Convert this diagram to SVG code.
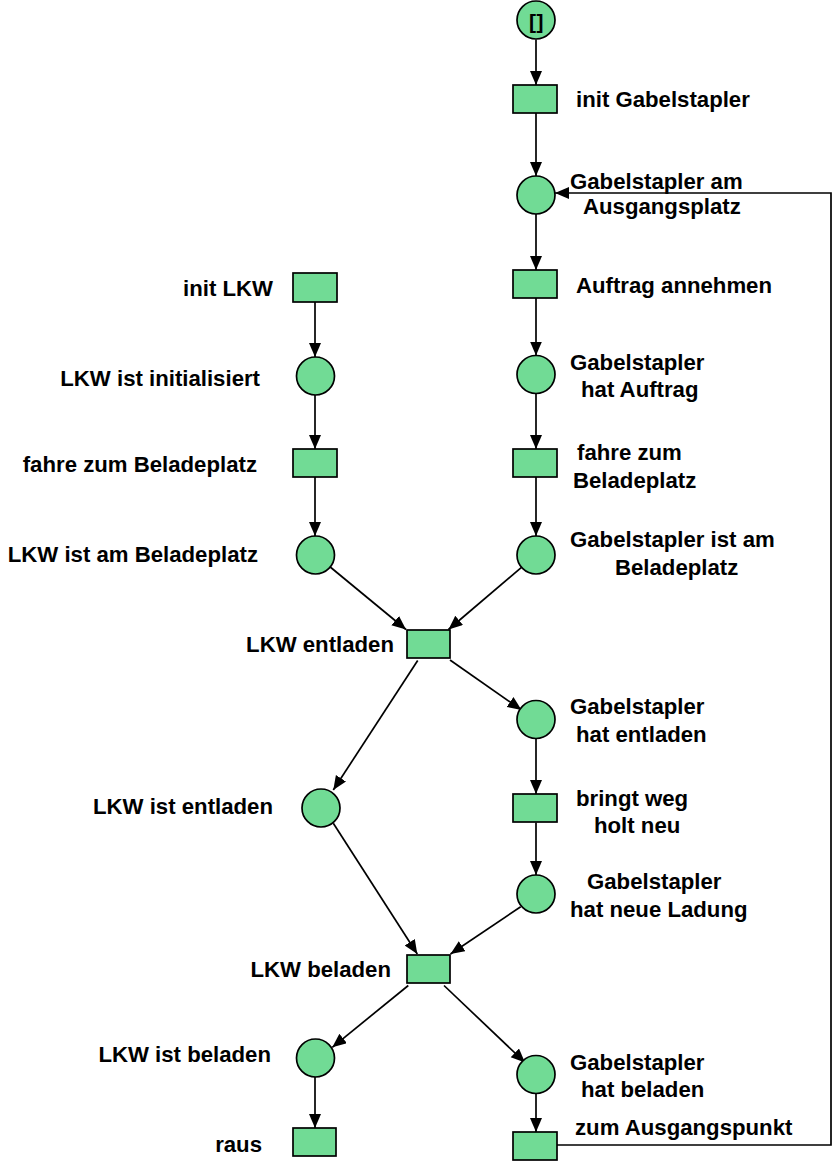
<svg xmlns="http://www.w3.org/2000/svg" width="832" height="1162" viewBox="0 0 832 1162">
  <style>
    .place { fill: #71db95; stroke: #000; stroke-width: 1.7; }
    .trans { fill: #71db95; stroke: #000; stroke-width: 1.7; }
    .lbl { font-family: "Liberation Sans", Arial, sans-serif; font-weight: bold; font-size: 22.2px; fill: #000; }
    .end { text-anchor: end; }
    .tok { font-family: "Liberation Sans", Arial, sans-serif; font-weight: bold; font-size: 21px; letter-spacing: 0.5px; text-anchor: middle; }
    .arc { fill: none; stroke: #000; stroke-width: 1.7; marker-end: url(#head); }
  </style>
  <defs>
    <marker id="head" markerUnits="userSpaceOnUse" markerWidth="15" markerHeight="13" refX="14" refY="6" orient="auto">
      <path d="M0,0 L14,6 L0,12 Z" fill="#000"/>
    </marker>
  </defs>
  <rect width="832" height="1162" fill="#fff"/>

  <!-- arcs of the net -->
  <g id="connectors">
    <!-- forklift column -->
    <line class="arc" x1="536" y1="39.5" x2="536" y2="85"/>
    <line class="arc" x1="536" y1="113" x2="536" y2="176"/>
    <line class="arc" x1="536" y1="214" x2="536" y2="270"/>
    <line class="arc" x1="536" y1="298" x2="536" y2="355.5"/>
    <line class="arc" x1="536" y1="393.5" x2="536" y2="449"/>
    <line class="arc" x1="536" y1="477" x2="536" y2="536"/>
    <line class="arc" x1="521.5" y1="567.3" x2="448.5" y2="629.5"/>
    <line class="arc" x1="450" y1="660" x2="521.5" y2="710"/>
    <line class="arc" x1="536" y1="738.5" x2="536" y2="794"/>
    <line class="arc" x1="536" y1="822.5" x2="536" y2="875"/>
    <line class="arc" x1="520.7" y1="906.7" x2="450.5" y2="954"/>
    <line class="arc" x1="444" y1="985.5" x2="525" y2="1062.5"/>
    <line class="arc" x1="536" y1="1093.5" x2="536" y2="1132"/>
    <polyline class="arc" points="557,1145 831,1145 831,193 555,193"/>
    <!-- truck column -->
    <line class="arc" x1="315" y1="302" x2="315" y2="357"/>
    <line class="arc" x1="315" y1="395" x2="315" y2="449"/>
    <line class="arc" x1="315" y1="477" x2="315" y2="536"/>
    <line class="arc" x1="330.2" y1="567" x2="406" y2="629.5"/>
    <line class="arc" x1="417.7" y1="660.5" x2="333.3" y2="790"/>
    <line class="arc" x1="333.3" y1="823.3" x2="417.3" y2="954"/>
    <line class="arc" x1="408.3" y1="985.5" x2="332.3" y2="1047.3"/>
    <line class="arc" x1="315" y1="1077" x2="315" y2="1128"/>
  </g>

  <!-- forklift places and transitions -->
  <g id="p_start">
    <circle class="place" cx="536" cy="20" r="19"/>
    <text class="tok" x="536.5" y="29">[]</text>
  </g>
  <g id="t_init_gabelstapler">
    <rect class="trans" x="513" y="85" width="44" height="28"/>
    <text class="lbl" x="576" y="107">init Gabelstapler</text>
  </g>
  <g id="p_am_ausgangsplatz">
    <circle class="place" cx="536" cy="195" r="19"/>
    <text class="lbl" x="570" y="189">Gabelstapler am</text>
    <text class="lbl" x="583" y="214">Ausgangsplatz</text>
  </g>
  <g id="t_auftrag_annehmen">
    <rect class="trans" x="513" y="270" width="44" height="28"/>
    <text class="lbl" x="576" y="293">Auftrag annehmen</text>
  </g>
  <g id="p_hat_auftrag">
    <circle class="place" cx="536" cy="374.5" r="19"/>
    <text class="lbl" x="570" y="370">Gabelstapler</text>
    <text class="lbl" x="581" y="397">hat Auftrag</text>
  </g>
  <g id="t_gs_fahre_zum_beladeplatz">
    <rect class="trans" x="513" y="449" width="44" height="28"/>
    <text class="lbl" x="577" y="460">fahre zum</text>
    <text class="lbl" x="573" y="488">Beladeplatz</text>
  </g>
  <g id="p_gs_am_beladeplatz">
    <circle class="place" cx="536" cy="555" r="19"/>
    <text class="lbl" x="570" y="547">Gabelstapler ist am</text>
    <text class="lbl" x="615" y="575">Beladeplatz</text>
  </g>
  <g id="p_hat_entladen">
    <circle class="place" cx="536" cy="719.5" r="19"/>
    <text class="lbl" x="570" y="714">Gabelstapler</text>
    <text class="lbl" x="576" y="741.5">hat entladen</text>
  </g>
  <g id="t_bringt_weg">
    <rect class="trans" x="513" y="794" width="44" height="28"/>
    <text class="lbl" x="576" y="806">bringt weg</text>
    <text class="lbl" x="594" y="833">holt neu</text>
  </g>
  <g id="p_hat_neue_ladung">
    <circle class="place" cx="536" cy="894" r="19"/>
    <text class="lbl" x="587" y="889">Gabelstapler</text>
    <text class="lbl" x="570" y="917">hat neue Ladung</text>
  </g>
  <g id="p_hat_beladen">
    <circle class="place" cx="536" cy="1074.5" r="19"/>
    <text class="lbl" x="570" y="1070">Gabelstapler</text>
    <text class="lbl" x="581" y="1097">hat beladen</text>
  </g>
  <g id="t_zum_ausgangspunkt">
    <rect class="trans" x="513" y="1132" width="44" height="28"/>
    <text class="lbl" x="575" y="1135">zum Ausgangspunkt</text>
  </g>

  <!-- truck places and transitions -->
  <g id="t_init_lkw">
    <rect class="trans" x="293" y="273" width="44" height="29"/>
    <text class="lbl end" x="273" y="296">init LKW</text>
  </g>
  <g id="p_lkw_initialisiert">
    <circle class="place" cx="315.5" cy="376" r="19"/>
    <text class="lbl end" x="260" y="385.5">LKW ist initialisiert</text>
  </g>
  <g id="t_lkw_fahre_zum_beladeplatz">
    <rect class="trans" x="293" y="449" width="44" height="28"/>
    <text class="lbl end" x="257" y="471.5">fahre zum Beladeplatz</text>
  </g>
  <g id="p_lkw_am_beladeplatz">
    <circle class="place" cx="315.5" cy="555" r="19"/>
    <text class="lbl end" x="258" y="561.5">LKW ist am Beladeplatz</text>
  </g>
  <g id="t_lkw_entladen">
    <rect class="trans" x="407" y="630" width="43" height="28"/>
    <text class="lbl end" x="394" y="652">LKW entladen</text>
  </g>
  <g id="p_lkw_ist_entladen">
    <circle class="place" cx="321" cy="808" r="19"/>
    <text class="lbl end" x="273" y="814">LKW ist entladen</text>
  </g>
  <g id="t_lkw_beladen">
    <rect class="trans" x="407" y="955" width="43" height="28"/>
    <text class="lbl end" x="391" y="977">LKW beladen</text>
  </g>
  <g id="p_lkw_ist_beladen">
    <circle class="place" cx="315.5" cy="1058" r="19"/>
    <text class="lbl end" x="271" y="1062">LKW ist beladen</text>
  </g>
  <g id="t_raus">
    <rect class="trans" x="293" y="1128" width="43" height="28"/>
    <text class="lbl end" x="262" y="1152">raus</text>
  </g>
</svg>
